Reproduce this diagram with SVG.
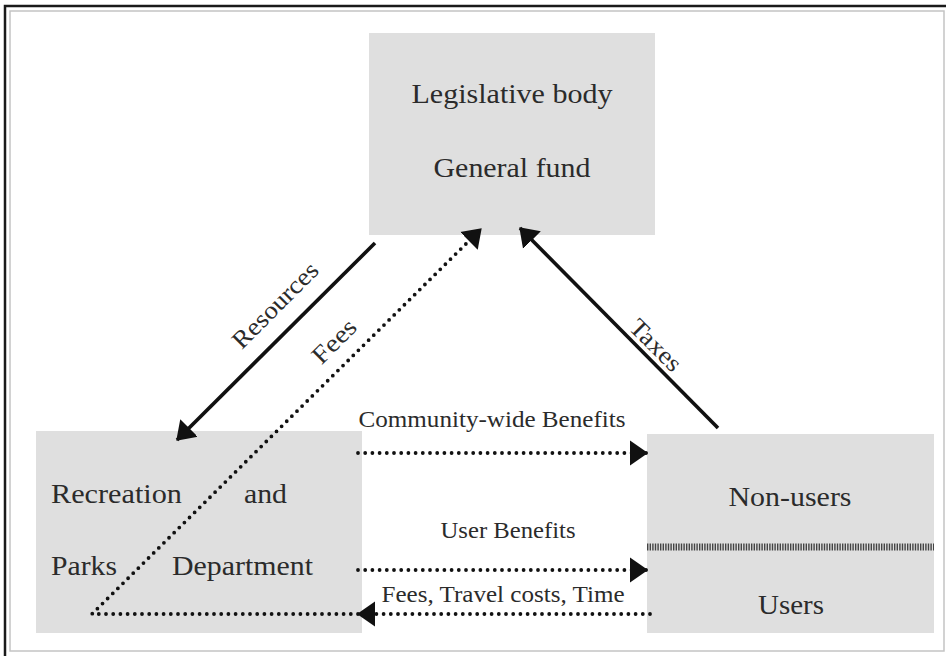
<svg xmlns="http://www.w3.org/2000/svg" width="946" height="656" viewBox="0 0 946 656">
  <style>
    .box { fill: #dfdfdf; }
    .lbl { font-family: "Liberation Serif", "Times New Roman", serif; fill: #2b2b2b; }
    .big { font-size: 28px; }
    .small { font-size: 23px; }
    .diag { font-size: 25px; }
    .solid { stroke: #111; stroke-width: 3.6; fill: none; }
    .dots { stroke: #111; stroke-width: 3.8; fill: none; stroke-linecap: round; stroke-dasharray: 0 7.2; }
  </style>
  <defs>
    <marker id="head" markerUnits="userSpaceOnUse" markerWidth="20" markerHeight="28" viewBox="0 -14 20 28" refX="17" refY="0" orient="auto">
      <path d="M0,-12.5 L18,0 L0,12.5 Z" fill="#111"/>
    </marker>
  </defs>

  <rect x="0" y="0" width="946" height="656" fill="#fff"/>

  <!-- frame -->
  <g id="frame" fill="none">
    <path d="M5,656 V6 H946" stroke="#1a1a1a" stroke-width="2.5"/>
    <path d="M10,651 V11 H944 V651 Z" stroke="#c4c4c4" stroke-width="1.5"/>
  </g>

  <!-- legislative body -->
  <g id="legislative">
    <rect class="box" x="369" y="33" width="286" height="202"/>
    <text class="lbl big" x="512" y="103" text-anchor="middle" textLength="201" lengthAdjust="spacingAndGlyphs">Legislative body</text>
    <text class="lbl big" x="512" y="177" text-anchor="middle" textLength="157" lengthAdjust="spacingAndGlyphs">General fund</text>
  </g>

  <!-- recreation and parks department -->
  <g id="department">
    <rect class="box" x="36" y="431" width="326" height="202"/>
    <text class="lbl big" x="51" y="503" textLength="131" lengthAdjust="spacingAndGlyphs">Recreation</text>
    <text class="lbl big" x="244" y="503" textLength="43" lengthAdjust="spacingAndGlyphs">and</text>
    <text class="lbl big" x="51" y="575" textLength="66" lengthAdjust="spacingAndGlyphs">Parks</text>
    <text class="lbl big" x="172" y="575" textLength="141" lengthAdjust="spacingAndGlyphs">Department</text>
  </g>

  <!-- non-users / users -->
  <g id="public">
    <rect class="box" x="647" y="434" width="287" height="199"/>
    <line x1="647" y1="547" x2="934" y2="547" stroke="#444" stroke-width="7" stroke-dasharray="1.4 1.2"/>
    <text class="lbl big" x="790" y="506" text-anchor="middle" textLength="123" lengthAdjust="spacingAndGlyphs">Non-users</text>
    <text class="lbl big" x="791" y="614" text-anchor="middle" textLength="66" lengthAdjust="spacingAndGlyphs">Users</text>
  </g>

  <!-- connectors -->
  <g id="connectors">
    <line class="solid" x1="375" y1="243" x2="177" y2="440" marker-end="url(#head)"/>
    <line class="solid" x1="718" y1="428" x2="520" y2="228" marker-end="url(#head)"/>
    <line class="dots" x1="358" y1="453" x2="647" y2="453" marker-end="url(#head)"/>
    <line class="dots" x1="358" y1="570" x2="647" y2="570" marker-end="url(#head)"/>
    <line class="dots" x1="650" y1="614" x2="358" y2="614" marker-end="url(#head)"/>
    <path class="dots" d="M358,614 H92 L481,229" marker-end="url(#head)"/>
  </g>

  <!-- connector labels -->
  <g id="labels">
    <text class="lbl diag" x="281" y="311" text-anchor="middle" textLength="111" lengthAdjust="spacingAndGlyphs" transform="rotate(-45 281 311)">Resources</text>
    <text class="lbl diag" x="340" y="347" text-anchor="middle" textLength="52" lengthAdjust="spacingAndGlyphs" transform="rotate(-45 340 347)">Fees</text>
    <text class="lbl diag" x="650" y="351" text-anchor="middle" textLength="63" lengthAdjust="spacingAndGlyphs" transform="rotate(45 650 351)">Taxes</text>
    <text class="lbl small" x="492" y="427" text-anchor="middle" textLength="267" lengthAdjust="spacingAndGlyphs">Community-wide Benefits</text>
    <text class="lbl small" x="508" y="538" text-anchor="middle" textLength="135" lengthAdjust="spacingAndGlyphs">User Benefits</text>
    <text class="lbl small" x="503" y="602" text-anchor="middle" textLength="243" lengthAdjust="spacingAndGlyphs">Fees, Travel costs, Time</text>
  </g>
</svg>
